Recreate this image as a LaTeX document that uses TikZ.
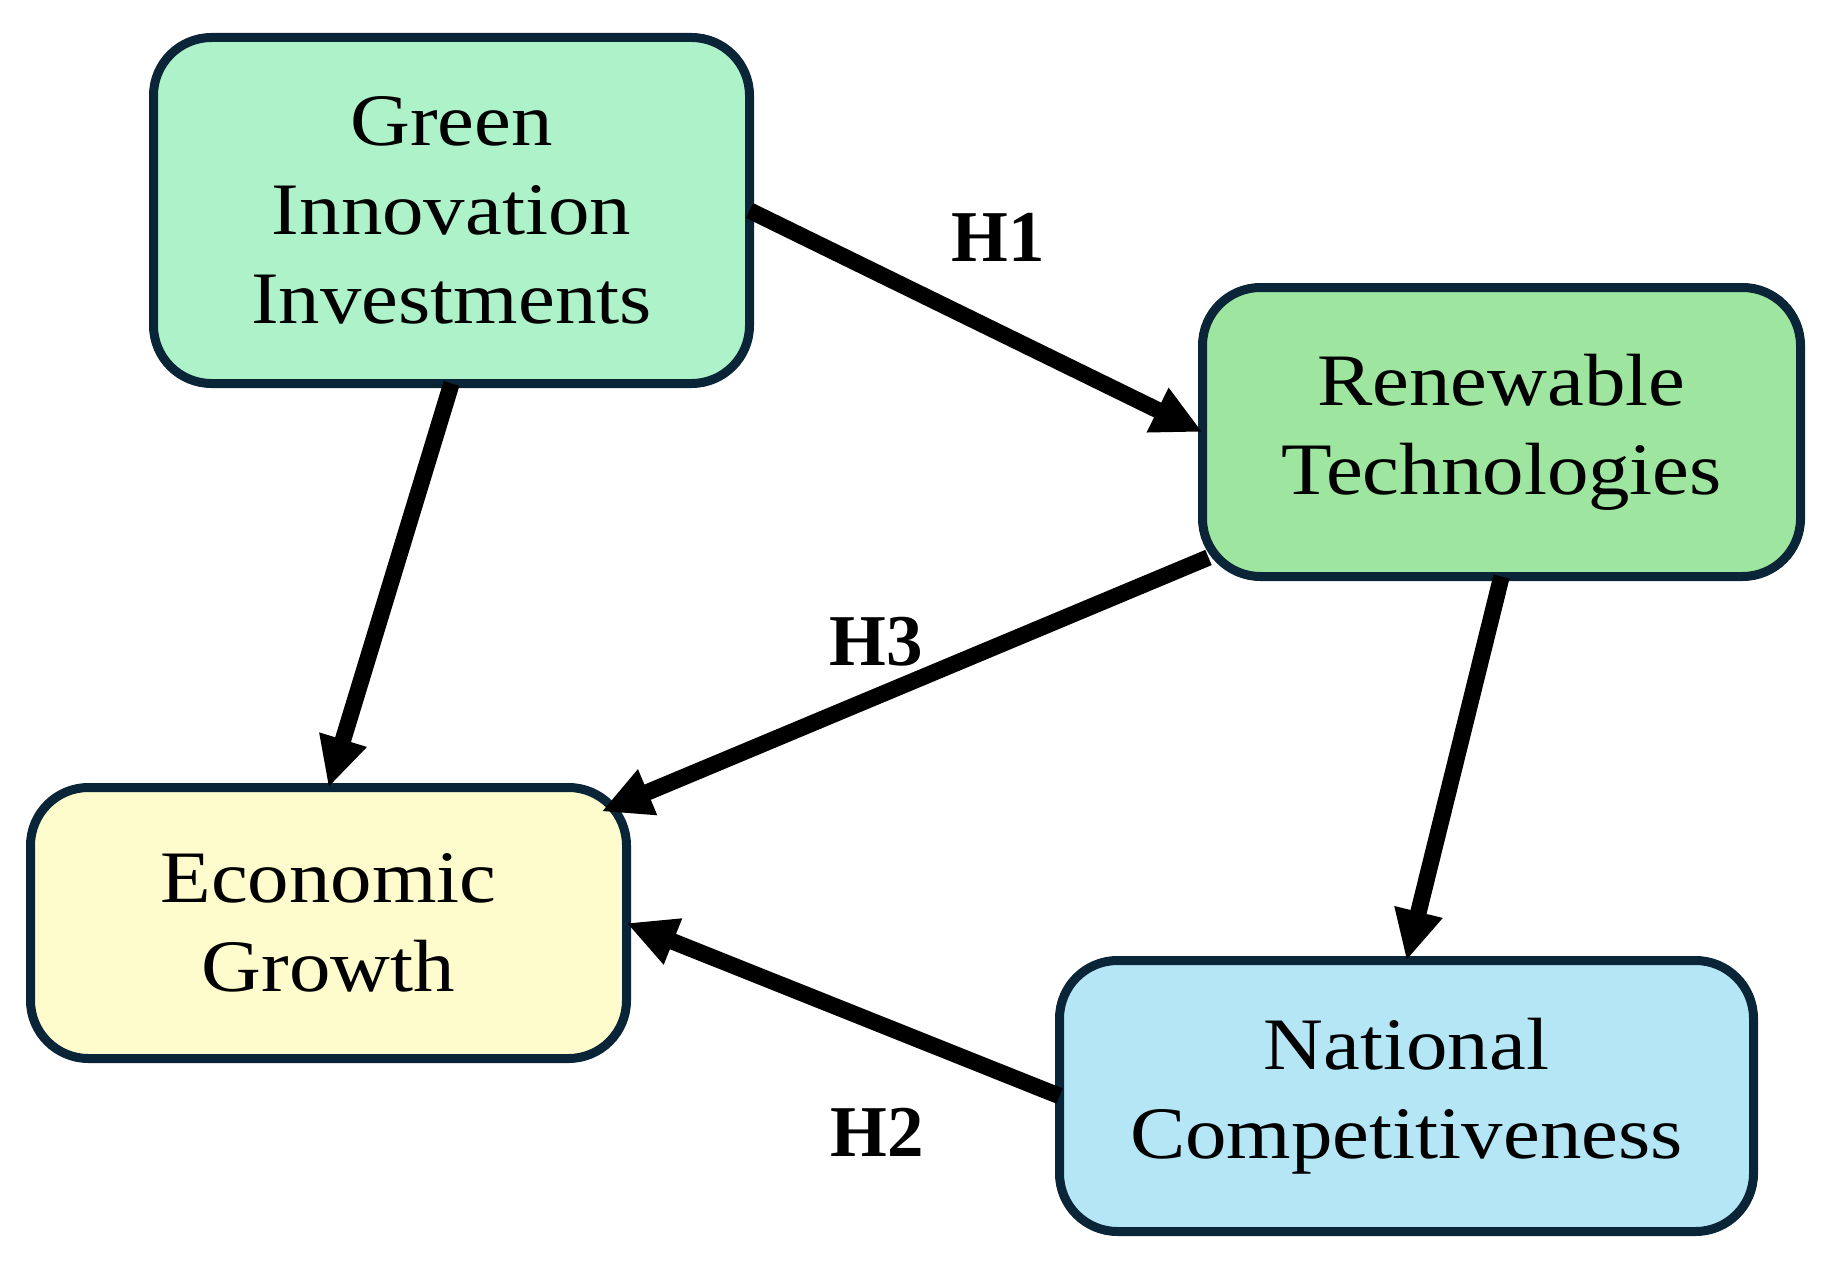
\documentclass[tikz,border=0pt]{standalone}
\usepackage{fontspec}
\setmainfont{Liberation Serif}
\newfontfamily\boxfont[FakeStretch=1.12]{Liberation Serif}
\usetikzlibrary{arrows.meta}
\definecolor{edgenavy}{HTML}{0B2538}
\definecolor{fillmint}{HTML}{AEF2C9}
\definecolor{fillgreen}{HTML}{9EE69F}
\definecolor{fillyellow}{HTML}{FEFCCD}
\definecolor{fillblue}{HTML}{B4E6F6}
\tikzset{
  varbox/.style={draw=edgenavy, line width=9pt, rounded corners=58pt,
    align=center, inner sep=0pt, outer sep=0pt,
    font=\boxfont\fontsize{74}{89}\selectfont},
  hyparrow/.style={line width=16.5pt, -{Triangle[length=50pt,width=46pt]}},
  hyplabel/.style={font=\bfseries\fontsize{73}{73}\selectfont, inner sep=0pt}
}
\begin{document}
\begin{tikzpicture}[x=1pt,y=-1pt]
\useasboundingbox (0,0) rectangle (1828,1271);
\node[varbox, fill=fillmint, minimum width=596pt, minimum height=346pt] (gii) at (451.5,210.5) {Green\\Innovation\\Investments};
\node[varbox, fill=fillgreen, minimum width=598pt, minimum height=289pt] (rt) at (1501.5,432) {Renewable\\Technologies};
\node[varbox, fill=fillyellow, minimum width=596pt, minimum height=271pt] (eg) at (328.5,923) {Economic\\Growth};
\node[varbox, fill=fillblue, minimum width=694pt, minimum height=271pt] (nc) at (1406.5,1096) {National\\Competitiveness};

\draw[hyparrow] (gii.east) -- (rt.west);
\draw[hyparrow] (gii.south) -- (eg.north);
\draw[hyparrow] ([shift={(6,-19)}]rt.south west) -- ([shift={(-25,24)}]eg.north east);
\draw[hyparrow] (rt.south) -- (nc.north);
\draw[hyparrow] (nc.west) -- (eg.east);

\node[hyplabel] (h1) at (998,237) {H1};
\node[hyplabel] (h3) at (876,642) {H3};
\node[hyplabel] (h2) at (877,1132) {H2};
\end{tikzpicture}
\end{document}
